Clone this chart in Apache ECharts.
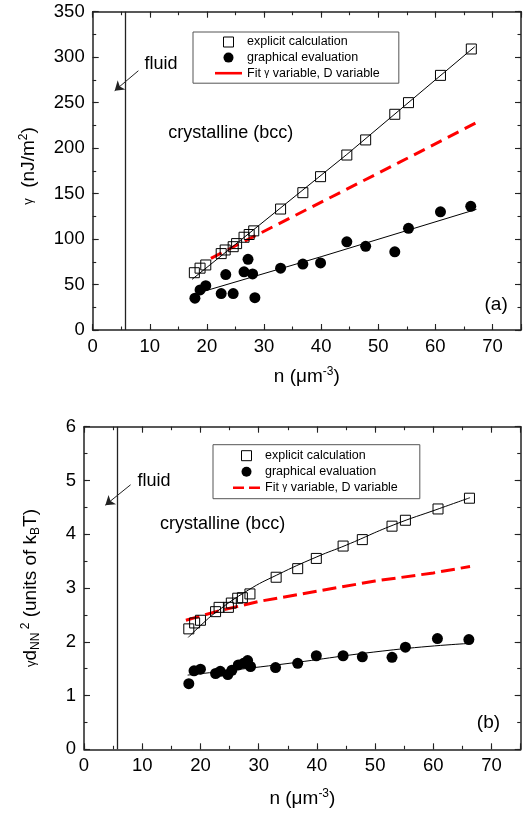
<!DOCTYPE html>
<html><head><meta charset="utf-8">
<script src="https://cdn.jsdelivr.net/npm/echarts@6.0.0/dist/echarts.min.js"></script>
<style>html,body{margin:0;padding:0;background:#fff}#c{width:531px;height:814px}</style>
</head><body><div id="c"></div>
<script>
const FONT = '"Liberation Sans", Arial, Helvetica, sans-serif';

// ---------- data, panel (a) ----------
const aExplicitN = [17.8,18.8,19.8,22.5,23.2,24.6,25.2,26.5,27.4,28.2,32.9,36.8,39.9,44.5,47.8,52.9,55.3,60.9,66.3];
const aExplicitG = [63,68,71.5,84,88,91.6,95,102,105,109,133,151,168.6,192.4,209,237.2,250,280,309];
const aGraphN = [17.9,18.8,19.8,22.5,23.3,24.6,26.5,27.2,28.0,28.4,32.9,36.8,39.9,44.5,47.8,52.9,55.3,60.9,66.2];
const aGraphG = [35,44,48.7,40,61,40,64,77.7,61.6,35.5,68,72.5,73.7,97,92,86,111.8,130,136];
const aFitExplicitN = [17.4,44.5,66.9];
const aFitExplicitG = [55.7,193,311.5];
const aFitGraphN = [19.7,40,67.2];
const aFitGraphG = [43,80.6,132.7];
const aFitRedN = [20.7,53.6,67.2];
const aFitRedG = [78.8,184,228];

// ---------- data, panel (b) ----------
const bExplicitN = [18.0,19.0,20.0,22.6,23.2,24.8,25.3,26.4,27.2,28.5,33.0,36.7,39.9,44.5,47.8,52.9,55.2,60.8,66.2];
const bExplicitG = [2.24,2.35,2.40,2.56,2.64,2.64,2.72,2.81,2.82,2.89,3.20,3.36,3.55,3.78,3.90,4.15,4.26,4.47,4.67];
const bGraphN = [18.0,18.9,20.0,22.6,23.4,24.7,25.4,26.5,27.4,28.1,28.6,32.9,36.7,39.9,44.5,47.8,52.9,55.2,60.7,66.1];
const bGraphG = [1.22,1.46,1.49,1.41,1.45,1.39,1.47,1.57,1.60,1.65,1.54,1.52,1.60,1.74,1.74,1.72,1.71,1.90,2.06,2.04];
const bFitExplicitN = [17.9,20.0,22.8,28.2,33.1,40.0,45.1,53.1,61.1,66.3];
const bFitExplicitG = [2.08,2.30,2.56,2.96,3.24,3.58,3.80,4.17,4.48,4.68];
const bFitGraphN = [17.8,33.1,53.1,66.3];
const bFitGraphG = [1.38,1.57,1.85,1.97];
const bFitRedN = [17.5,23,30,40,50,60,66.3];
const bFitRedG = [2.40,2.57,2.75,2.94,3.13,3.28,3.40];

// boundary fluid / crystal and annotation arrows (data coords)
const fluidN = [5.7];
const aArrow = [[8.0,285.1],[3.85,263.1]];
const bArrow = [[8.0,4.92],[3.66,4.54]];

// ---------- axes ----------
const xRange = [0,75];
const xTicks = [0,10,20,30,40,50,60,70];
const xMinorStep = 5;
const aYRange = [0,350];
const aYTicks = [0,50,100,150,200,250,300,350];
const aYMinorStep = 25;
const bYRange = [0,6];
const bYTicks = [0,1,2,3,4,5,6];
const bYMinorStep = 0.5;

const seriesNames = ['explicit calculation','graphical evaluation','Fit \u03b3 variable, D variable'];

const AX = '#222';
function axisSet(dim, grid, range, ticks, minorStep) {
  const major = ticks[1]-ticks[0];
  const pos = dim === 'x' ? ['bottom','top'] : ['left','right'];
  const out = [];
  pos.forEach((p, pi) => {
    [major, minorStep].forEach((step, si) => {
      out.push({
        type:'value', gridIndex:grid, position:p, min:range[0], max:range[1], interval:step,
        splitLine:{show:false},
        axisLine:{show: si===0, onZero:false, lineStyle:{color:AX, width:1.5}},
        axisTick:{show:true, inside:true, length: si===0 ? 6 : 3.5, lineStyle:{color:AX, width:1.1}},
        axisLabel:{show: pi===0 && si===0, color:'#000', fontFamily:FONT, fontSize:18.5,
          margin: dim==='x' ? 7 : 8,
          formatter: v => ticks.some(t => Math.abs(t-v) < 1e-9) ? String(v) : ''},
        silent:true
      });
    });
  });
  return out;
}

const xAxes = [].concat(axisSet('x',0,xRange,xTicks,xMinorStep), axisSet('x',1,xRange,xTicks,xMinorStep));
const yAxes = [].concat(axisSet('y',0,aYRange,aYTicks,aYMinorStep), axisSet('y',1,bYRange,bYTicks,bYMinorStep));

const pts = (xs, ys) => xs.map((x,i) => [x, ys[i]]);

function panelSeries(p, axisIdx, ex, gr, fitEx, fitGr, fitRed, arrow, redDash, smoothFit) {
  return [
    {type:'line', name:'fitEx'+p, xAxisIndex:axisIdx, yAxisIndex:axisIdx, data:pts(fitEx[0],fitEx[1]),
     showSymbol:false, symbol:'none', smooth:smoothFit, lineStyle:{color:'#000', width:1}, z:3,
     markLine:{silent:true, symbol:['none','none'], label:{show:false}, animation:false,
       lineStyle:{color:'#222', width:1.3, type:'solid'}, emphasis:{disabled:true},
       data: fluidN.map(v => ({xAxis:v}))}},
    {type:'line', name:'fitGr'+p, xAxisIndex:axisIdx, yAxisIndex:axisIdx, data:pts(fitGr[0],fitGr[1]),
     showSymbol:false, symbol:'none', smooth:smoothFit, lineStyle:{color:'#000', width:1}, z:3,
     markLine:{silent:true, symbol:['none','arrow'], symbolSize:9, label:{show:false}, animation:false,
       lineStyle:{color:'#222', width:1, type:'solid'}, itemStyle:{color:'#222'}, emphasis:{disabled:true},
       data:[[{coord:arrow[0]},{coord:arrow[1]}]]}},
    {type:'line', name:seriesNames[2], xAxisIndex:axisIdx, yAxisIndex:axisIdx, data:pts(fitRed[0],fitRed[1]),
     showSymbol:false, symbol:'none', smooth:false, color:'#ff0000', lineStyle:{color:'#ff0000', width:3, type:redDash}, z:2},
    {type:'scatter', name:seriesNames[0], xAxisIndex:axisIdx, yAxisIndex:axisIdx, data:pts(ex[0],ex[1]),
     symbol:'rect', symbolSize:10, itemStyle:{color:'rgba(0,0,0,0)', borderColor:'#000', borderWidth:1, opacity:1}, z:4},
    {type:'scatter', name:seriesNames[1], xAxisIndex:axisIdx, yAxisIndex:axisIdx, data:pts(gr[0],gr[1]),
     symbol:'circle', symbolSize:11, itemStyle:{color:'#000', opacity:1}, z:5}
  ];
}

const series = [].concat(
  panelSeries('a', 0, [aExplicitN,aExplicitG],[aGraphN,aGraphG],[aFitExplicitN,aFitExplicitG],[aFitGraphN,aFitGraphG],[aFitRedN,aFitRedG], aArrow, [12,7], false),
  panelSeries('b', 4, [bExplicitN,bExplicitG],[bGraphN,bGraphG],[bFitExplicitN,bFitExplicitG],[bFitGraphN,bFitGraphG],[bFitRedN,bFitRedG], bArrow, [14,6], true)
);

function legendFor(left, top, padding, gap, redIcon) {
  return {
    orient:'vertical', left:left, top:top, padding:padding, itemGap:gap, itemWidth:27, itemHeight:10,
    borderColor:'#555', borderWidth:1, selectedMode:false, backgroundColor:'#fff',
    textStyle:{fontFamily:FONT, fontSize:12.5, color:'#000', lineHeight:14,
      rich:{g:{fontFamily:FONT, fontSize:10, color:'#000'}}},
    formatter: n => n.replace('\u03b3','{g|\u03b3}'),
    data:[
      {name:seriesNames[0], icon:'path://M0,0L10,0L10,10L0,10Z', itemStyle:{color:'rgba(0,0,0,0)', borderColor:'#000', borderWidth:1, opacity:1}},
      {name:seriesNames[1], icon:'circle', itemStyle:{color:'#000', opacity:1}},
      {name:seriesNames[2], icon:redIcon, itemStyle:{color:'#ff0000', borderWidth:0, opacity:1}}
    ]
  };
}

const supRich = {
  a:{fontFamily:FONT, fontSize:19, lineHeight:22, color:'#000'},
  g:{fontFamily:FONT, fontSize:13, lineHeight:22, color:'#000'},
  s:{fontFamily:FONT, fontSize:12, lineHeight:4, verticalAlign:'top', color:'#000'},
  b:{fontFamily:FONT, fontSize:12, lineHeight:12, verticalAlign:'bottom', color:'#000'}
};
function txt(x, y, text, size, align, rot) {
  return {type:'text', x:x, y:y, rotation: rot || 0, silent:true,
    style:{text:text, fontFamily:FONT, fontSize:size, fill:'#000', textAlign:align||'left', textVerticalAlign:'middle', rich:supRich}};
}

const option = {
  animation:false,
  backgroundColor:'#fff',
  grid:[
    {left:92.7, top:11.7, width:428.3, height:318.3},
    {left:84, top:426.7, width:436.7, height:322.6}
  ],
  xAxis:xAxes,
  yAxis:yAxes,
  legend:[
    legendFor(193, 32, [3,19,3,22], 1.6, 'path://M0,0L27,0L27,2.6L0,2.6Z'),
    legendFor(213, 444.7, [4,22,4,20], 2, 'path://M0,0L11,0L11,2.6L0,2.6Z M16,0L27,0L27,2.6L16,2.6Z')
  ],
  graphic:{elements:[
    txt(144.6, 64, 'fluid', 18),
    txt(168.3, 133, 'crystalline (bcc)', 18),
    txt(484.5, 305, '(a)', 19),
    txt(306.8, 377, '{a|n (\u03bcm}{s|-3}{a|)}', 19, 'center'),
    txt(28.5, 166, '{g|\u03b3}{a|  (nJ/m}{s|2}{a|)}', 19, 'center', Math.PI/2),
    txt(137.4, 481, 'fluid', 18),
    txt(160.1, 524.3, 'crystalline (bcc)', 18),
    txt(476.8, 722.5, '(b)', 19),
    txt(302.4, 798.3, '{a|n (\u03bcm}{s|-3}{a|)}', 19, 'center'),
    txt(31, 588, '{g|\u03b3}{a|d}{b|NN}{s| 2}{a| (units of k}{b|B}{a|T)}', 19, 'center', Math.PI/2)
  ]},
  series:series
};

const chart = echarts.init(document.getElementById('c'), null, {renderer:'canvas'});
chart.setOption(option);
</script></body></html>
